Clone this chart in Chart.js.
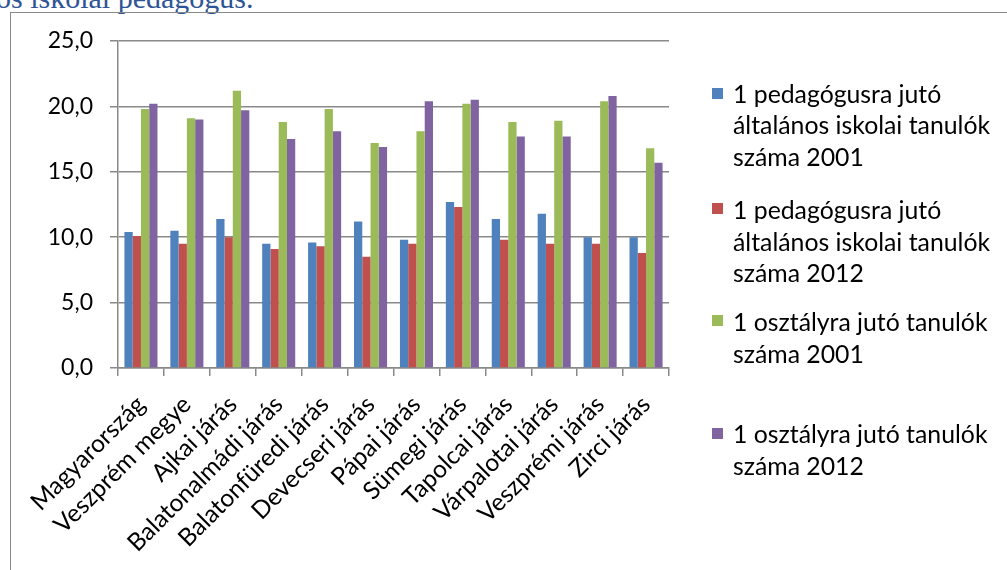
<!DOCTYPE html>
<html>
<head>
<meta charset="utf-8">
<script src="https://cdn.jsdelivr.net/npm/chart.js@4.4.0/dist/chart.umd.min.js"></script>
<style>
  html, body { margin: 0; padding: 0; background: #fff; width: 1007px; height: 570px; overflow: hidden; }
  #wrap { position: relative; width: 1007px; height: 570px; }
  #doctext { position: absolute; left: -4px; top: -17px; font-family: "Liberation Serif", serif; font-size: 30px; line-height: 30px; color: #2F5496; white-space: nowrap; }
  #frame { position: absolute; left: 10px; top: 12px; width: 1100px; height: 700px; border-left: 1.5px solid #898989; border-top: 1.5px solid #898989; }
  canvas { position: absolute; left: 0; top: 0; }
  #legend { position: absolute; left: 0; top: 0; font-family: Lato, "Noto Sans", sans-serif; font-size: 24.8px; color: #000; }
  .li { position: absolute; left: 733px; line-height: 31.7px; white-space: nowrap; }
  .sw { position: absolute; left: 712px; width: 11px; height: 11px; }
</style>
</head>
<body>
<div id="wrap">
  <div id="doctext">os iskolai pedagógus.</div>
  <div id="frame"></div>
  <canvas id="c" width="1007" height="570"></canvas>
  <div id="legend"></div>
</div>
<script>
const categories = ["Magyarország", "Veszprém megye", "Ajkai járás", "Balatonalmádi járás", "Balatonfüredi járás", "Devecseri járás", "Pápai járás", "Sümegi járás", "Tapolcai járás", "Várpalotai járás", "Veszprémi járás", "Zirci járás"];
const seriesNames = [
  ["1 pedagógusra jutó", "általános iskolai tanulók", "száma 2001"],
  ["1 pedagógusra jutó", "általános iskolai tanulók", "száma 2012"],
  ["1 osztályra jutó tanulók", "száma 2001"],
  ["1 osztályra jutó tanulók", "száma 2012"]
];
const ped2001 = [10.4, 10.5, 11.4, 9.5, 9.6, 11.2, 9.8, 12.7, 11.4, 11.8, 10.0, 10.0];
const ped2012 = [10.1, 9.5, 10.0, 9.1, 9.3, 8.5, 9.5, 12.3, 9.8, 9.5, 9.5, 8.8];
const oszt2001 = [19.8, 19.1, 21.2, 18.8, 19.8, 17.2, 18.1, 20.2, 18.8, 18.9, 20.4, 16.8];
const oszt2012 = [20.2, 19.0, 19.7, 17.5, 18.1, 16.9, 20.4, 20.5, 17.7, 17.7, 20.8, 15.7];
const yTicks = [0, 5, 10, 15, 20, 25];

const colors = ["#4F81BD", "#C0504D", "#9BBB59", "#8064A2"];
const allData = [ped2001, ped2012, oszt2001, oszt2012];

// HTML legend (multi-line labels)
const legendLayout = [
  { sq: 88, base: 101.7 },
  { sq: 203, base: 218 },
  { sq: 315, base: 330 },
  { sq: 428, base: 442 }
];
const legend = document.getElementById('legend');
seriesNames.forEach((lines, i) => {
  const sw = document.createElement('div');
  sw.className = 'sw';
  sw.style.top = legendLayout[i].sq + 'px';
  sw.style.background = colors[i];
  legend.appendChild(sw);
  lines.forEach((t, j) => {
    const d = document.createElement('div');
    d.className = 'li';
    d.textContent = t;
    d.style.top = (legendLayout[i].base - 24 + j * 31.7) + 'px';
    legend.appendChild(d);
  });
});

const FONT = "Lato, 'Noto Sans', sans-serif";
const axisGray = "#898989";

new Chart(document.getElementById('c'), {
  type: 'bar',
  data: {
    labels: categories,
    datasets: allData.map((d, i) => ({
      label: seriesNames[i].join(' '),
      data: d,
      backgroundColor: colors[i],
      borderWidth: 0,
      categoryPercentage: 0.72,
      barPercentage: 1.0
    }))
  },
  options: {
    responsive: false,
    animation: false,
    devicePixelRatio: 1,
    layout: { padding: { left: 0, top: 41, right: 338, bottom: 0 } },
    plugins: { legend: { display: false }, tooltip: { enabled: false } },
    scales: {
      x: {
        grid: { display: true, drawOnChartArea: false, drawTicks: true, tickLength: 8, color: axisGray, lineWidth: 1.5, offset: true },
        border: { display: true, color: axisGray, width: 1.5 },
        ticks: { color: "#000", font: { family: FONT, size: 24.5 }, maxRotation: 45, minRotation: 45, autoSkip: false, padding: 14 },
        afterFit: (s) => { s.height = 202; }
      },
      y: {
        min: 0, max: 25,
        afterBuildTicks: (s) => { s.ticks = yTicks.map(v => ({ value: v })); },
        grid: { color: axisGray, lineWidth: 1.5, tickLength: 8 },
        border: { display: true, color: axisGray, width: 1.5 },
        ticks: { color: "#000", font: { family: FONT, size: 23 }, padding: 17,
          callback: (v) => Number(v).toFixed(1).replace('.', ',') },
        afterFit: (s) => { s.width = 118; }
      }
    }
  }
});
</script>
</body>
</html>
